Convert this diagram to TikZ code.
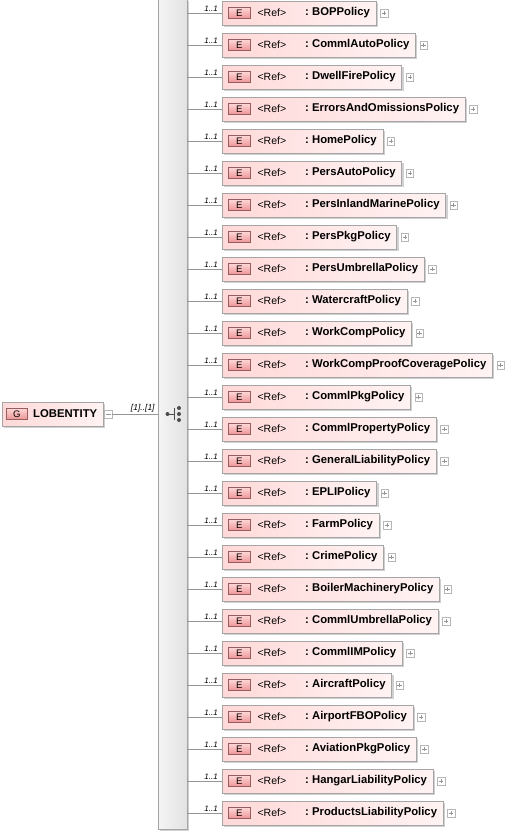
\documentclass[tikz,border=0pt]{standalone}
\usepackage{fontspec}
\setmainfont{Liberation Sans}
\usetikzlibrary{positioning,shadows}

\definecolor{boxpink}{RGB}{255,216,216}
\definecolor{boxlight}{RGB}{255,243,243}
\definecolor{iconpink}{RGB}{236,148,148}
\definecolor{iconlight}{RGB}{255,214,214}
\definecolor{iconline}{RGB}{150,95,95}
\definecolor{edgegray}{RGB}{165,165,165}
\definecolor{linegray}{RGB}{150,150,150}
\definecolor{barfill}{RGB}{226,226,226}
\definecolor{barlight}{RGB}{244,244,244}
\definecolor{shadowgray}{RGB}{208,208,208}

\tikzset{
	elem/.style={draw=edgegray, left color=boxpink, right color=boxlight, minimum height=24pt,
		inner xsep=6pt, inner ysep=0pt, anchor=west, font=\fontsize{11.3}{12}\selectfont\bfseries,
		drop shadow={shadow xshift=2pt, shadow yshift=-2pt, fill=shadowgray, opacity=1}},
	tag/.style={draw=iconline, top color=iconlight, bottom color=iconpink, minimum width=22pt,
		minimum height=11pt, inner sep=0pt, font=\fontsize{9.5}{10}\selectfont},
	reftext/.style={inner sep=0pt, font=\fontsize{10.5}{12}\selectfont},
	expander/.style={draw=edgegray!80, fill=white, minimum size=7.5pt, inner sep=0pt},
	plussign/.style={path picture={
		\draw[linegray, line width=.5pt] ([xshift=1.5pt]path picture bounding box.west) -- ++(4.5pt,0pt);
		\draw[linegray, line width=.5pt] ([yshift=-1.5pt]path picture bounding box.north) -- ++(0pt,-4.5pt);}},
	minussign/.style={path picture={
		\draw[linegray, line width=.5pt] ([xshift=1.5pt]path picture bounding box.west) -- ++(5pt,0pt);}},
	mult/.style={inner sep=0pt, font=\fontsize{8}{9}\selectfont\itshape},
	conn/.style={draw=linegray, line width=0.8pt},
	seqbar/.style={draw=edgegray, left color=barlight, right color=barfill, minimum width=29pt,
		minimum height=830pt, inner sep=0pt,
		drop shadow={shadow xshift=2pt, shadow yshift=-2pt, fill=shadowgray, opacity=1}},
}

\begin{document}
\begin{tikzpicture}[x=1pt, y=-1pt]
	\useasboundingbox (0,0) rectangle (505,833);

	\node[seqbar] (seq) at (172.5,414) {};
	\fill[black!70] ([xshift=-5pt]seq.center) circle (2pt);
	\draw[black!70, line width=.8pt] ([xshift=-5pt]seq.center) -- ([xshift=1.5pt]seq.center);
	\draw[black!70, line width=.8pt] ([xshift=1.5pt, yshift=6pt]seq.center) -- ([xshift=1.5pt, yshift=-6pt]seq.center);
	\fill[black!70] ([xshift=6.5pt, yshift=6pt]seq.center) circle (2pt)
		([xshift=6.5pt]seq.center) circle (2pt)
		([xshift=6.5pt, yshift=-6pt]seq.center) circle (2pt);

	\node[elem] (lob) at (2,414) {\hspace*{25pt}LOBENTITY};
	\node[tag, minimum width=21pt, right=4pt of lob.west] (g) {G};
	\node[expander, minussign, right=1pt of lob] (m) {};
	\coordinate (into) at (seq.west |- m);
	\draw[conn] (m) -- (into);
	\node[mult, font=\fontsize{8.5}{9}\selectfont\itshape, above left=1.5pt and 3pt of into] {[1]..[1]};

	\foreach \pol [count=\i from 0] in {BOP, CommlAuto, DwellFire, ErrorsAndOmissions, Home, PersAuto,
		PersInlandMarine, PersPkg, PersUmbrella, Watercraft, WorkComp, WorkCompProofCoverage,
		CommlPkg, CommlProperty, GeneralLiability, EPLI, Farm, Crime, BoilerMachinery,
		CommlUmbrella, CommlIM, Aircraft, AirportFBO, AviationPkg, HangarLiability, ProductsLiability} {
		\node[elem] (b\i) at (222,{13+32*\i}) {\hspace*{77pt}:~\pol Policy};
		\node[tag, right=6pt of b\i.west] (e\i) {E};
		\node[reftext, right=7pt of e\i] (r\i) {<Ref>};
		\node[expander, plussign, right=4pt of b\i] (x\i) {};
		\draw[conn] (seq.east |- b\i.west) -- (b\i.west);
		\node[mult, above left=1pt and 4pt of b\i.west] {1..1};
	}
\end{tikzpicture}
\end{document}
